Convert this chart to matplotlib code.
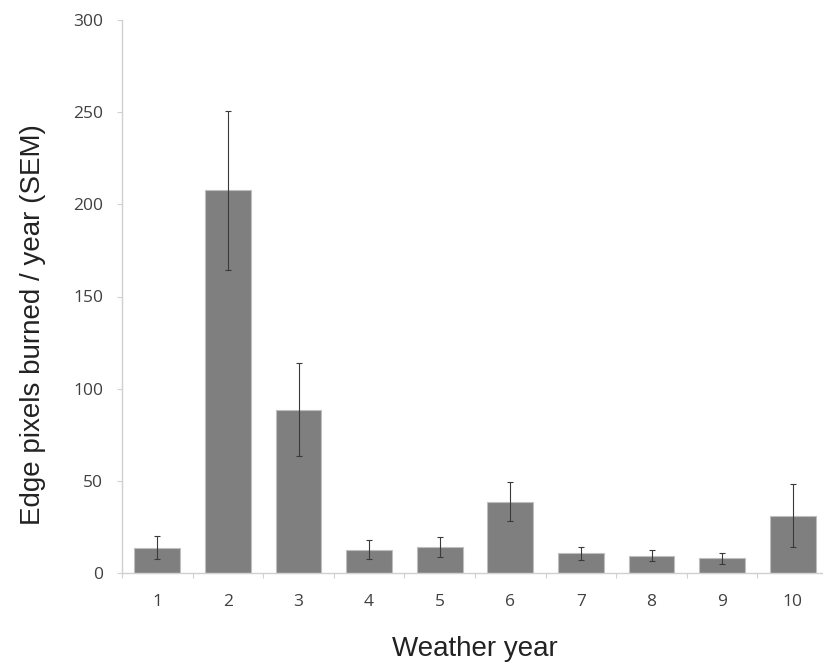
import matplotlib
matplotlib.use('Agg')
from matplotlib import pyplot as plt

years = ['1', '2', '3', '4', '5', '6', '7', '8', '9', '10']
burned = [13.8, 207.7, 88.6, 12.7, 14.0, 38.7, 10.7, 9.4, 8.1, 31.1]
sem = [6.2, 43.2, 25.1, 5.0, 5.4, 10.5, 3.5, 3.0, 3.0, 17.0]

fig = plt.figure(figsize=(8.23, 6.65), dpi=100)
ax = fig.add_axes([122 / 823, 1 - 573 / 665, 706 / 823, 553 / 665])

x = list(range(len(years)))
ax.bar(x, burned, width=0.65, color='#7f7f7f', edgecolor='#bfbfbf', linewidth=0.8,
       yerr=sem, error_kw=dict(ecolor='#3a3a3a', elinewidth=0.8, capsize=2.5, capthick=0.8))

ax.set_xlim(-0.5, 9.5)
ax.set_ylim(0, 300)
ax.set_yticks([0, 50, 100, 150, 200, 250, 300])
ax.set_xticks([i - 0.5 for i in range(10)])
ax.set_xticklabels([])
ax.set_xticks(x, minor=True)
ax.set_xticklabels(years, minor=True)
ax.tick_params(axis='x', which='minor', length=0, pad=15, labelsize=12.5, labelcolor='#404040')
ax.tick_params(axis='x', which='major', length=3.6, color='#d0d0d0', direction='out')
ax.tick_params(axis='y', length=3.6, color='#d0d0d0', direction='out', pad=10,
               labelsize=12.5, labelcolor='#404040')
for lab in ax.get_xticklabels(minor=True) + ax.get_yticklabels():
    lab.set_family('Open Sans')

for s in ['top', 'right']:
    ax.spines[s].set_visible(False)
for s in ['left', 'bottom']:
    ax.spines[s].set_color('#d0d0d0')
    ax.spines[s].set_linewidth(1)

ax.set_ylabel('Edge pixels burned / year (SEM)', fontsize=20, family='Liberation Sans',
              color='#222222')
ax.yaxis.set_label_coords(-0.107, 0.4485)
ax.set_xlabel('Weather year', fontsize=20, family='Liberation Sans', color='#222222',
              labelpad=19)

fig.savefig('out.png', dpi=100)
